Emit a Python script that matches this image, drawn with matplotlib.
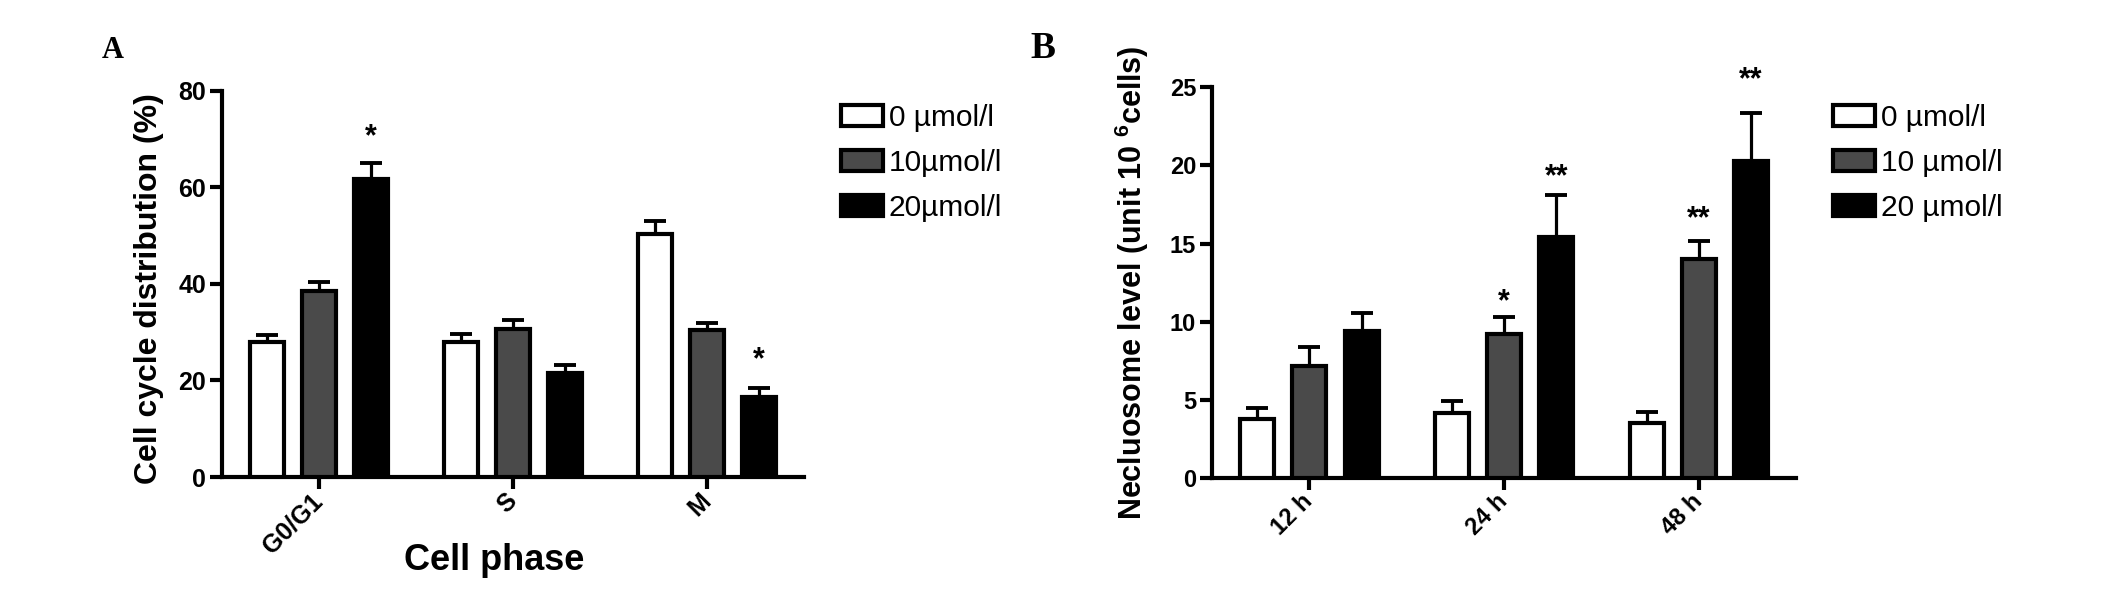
import matplotlib
matplotlib.use('Agg')
import matplotlib.pyplot as plt
import numpy as np

plt.rcParams['font.family'] = ['Liberation Sans', 'DejaVu Sans']
plt.rcParams['font.weight'] = 'bold'
plt.rcParams['axes.labelweight'] = 'bold'
plt.rcParams['mathtext.fontset'] = 'custom'
plt.rcParams['mathtext.rm'] = 'Liberation Sans:bold'
plt.rcParams['mathtext.default'] = 'rm'

# panel A - cell cycle
phases = ['G0/G1', 'S', 'M']
a_0 = [27.9, 27.9, 50.4]
a_0_err = [1.5, 1.7, 2.6]
a_10 = [38.5, 30.7, 30.5]
a_10_err = [2.0, 1.9, 1.4]
a_20 = [61.7, 21.5, 16.5]
a_20_err = [3.3, 1.8, 1.9]
a_labels = ['0 µmol/l', '10µmol/l', '20µmol/l']
# (group, series, mark, y)
a_stars = [(0, 2, '*', 70.5), (2, 2, '*', 24.1)]

# panel B - nucleosome level
times = ['12 h', '24 h', '48 h']
b_0 = [3.77, 4.13, 3.49]
b_0_err = [0.71, 0.82, 0.76]
b_10 = [7.19, 9.2, 13.99]
b_10_err = [1.18, 1.13, 1.18]
b_20 = [9.43, 15.42, 20.28]
b_20_err = [1.11, 2.67, 3.07]
b_labels = ['0 µmol/l', '10 µmol/l', '20 µmol/l']
b_stars = [(1, 1, '*', 11.25), (1, 2, '**', 19.25), (2, 1, '**', 16.55), (2, 2, '**', 25.45)]

colors = ['white', '#4a4a4a', 'black']
step = 0.268
width = 0.175


def draw(ax, cats, means, errs, labels, stars, ymax, ystep, tsize, xsize):
    x = np.arange(len(cats))
    for i in range(3):
        pos = x + (i - 1) * step
        ax.bar(pos, means[i], width, color=colors[i], edgecolor='black',
               linewidth=3, label=labels[i], zorder=3)
        ax.errorbar(pos, means[i], yerr=[np.zeros(len(cats)), errs[i]], fmt='none',
                    ecolor='black', elinewidth=2.3, capsize=8, capthick=2.8, zorder=2)
    for g, s, mark, y in stars:
        ax.text(g + (s - 1) * step, y, mark, ha='center', va='center',
                fontsize=22, fontweight='bold', clip_on=False)
    ax.set_xlim(-0.5, 2.5)
    ax.set_ylim(0, ymax)
    ax.set_yticks(np.arange(0, ymax + 1, ystep))
    ax.set_xticks(x)
    ax.set_xticklabels(cats, rotation=45, ha='right', va='center', rotation_mode='anchor',
                       fontsize=xsize, fontweight='bold')
    for side in ['top', 'right']:
        ax.spines[side].set_visible(False)
    for side in ['left', 'bottom']:
        ax.spines[side].set_linewidth(3)
    ax.tick_params(axis='both', direction='out', length=8.5, width=3, labelsize=tsize, pad=3)
    ax.tick_params(axis='x', pad=6)


def add_legend(ax, x_px):
    ax.legend(loc='upper left', bbox_to_anchor=(x_px / 2126, 1 - 104 / 593),
              bbox_transform=fig.transFigure, frameon=False, borderaxespad=0, borderpad=0,
              handlelength=1.4, handleheight=0.74, handletextpad=0.2, labelspacing=0.57,
              prop={'size': 21.5, 'weight': 'normal'})


fig = plt.figure(figsize=(21.26, 5.93), dpi=100)

ax1 = fig.add_axes([0.1044, 0.1956, 0.2738, 0.651])
draw(ax1, phases, [a_0, a_10, a_20], [a_0_err, a_10_err, a_20_err], a_labels, a_stars, 80, 20, 18, 18.5)
ax1.set_ylabel('Cell cycle distribution (%)', fontsize=23, fontweight='bold', va='center')
ax1.yaxis.set_label_coords(-0.125, 0.487)
ax1.set_xlabel('Cell phase', fontsize=26, fontweight='bold', va='center')
ax1.xaxis.set_label_coords(0.467, -0.215)
add_legend(ax1, 841)

ax2 = fig.add_axes([0.5701, 0.1939, 0.2747, 0.659])
draw(ax2, times, [b_0, b_10, b_20], [b_0_err, b_10_err, b_20_err], b_labels, b_stars, 25, 5, 17, 17.5)
ax2.set_ylabel('Necluosome level (unit 10 $^{6}$cells)', fontsize=22, fontweight='bold', va='center')
ax2.yaxis.set_label_coords(-0.137, 0.5)
add_legend(ax2, 1833)

fig.text(102 / 2126, 1 - 58 / 593, 'A', family='Liberation Serif', fontweight='bold',
         fontsize=22, va='baseline', ha='left')
fig.text(1030 / 2126, 1 - 58 / 593, 'B', family='Liberation Serif', fontweight='bold',
         fontsize=27, va='baseline', ha='left')

fig.savefig('out.png', dpi=100)
